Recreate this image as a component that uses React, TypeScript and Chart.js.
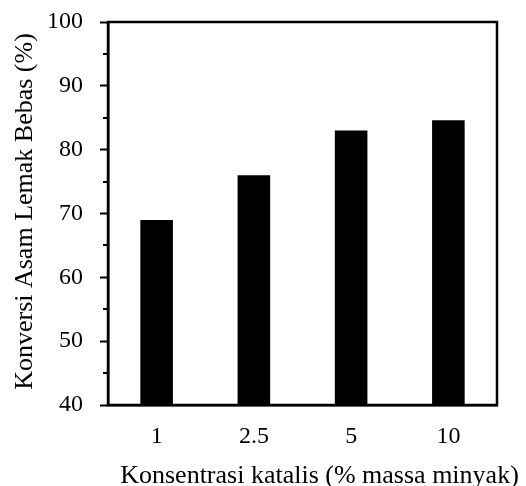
import React, { useEffect, useRef } from "react";
import { Chart, registerables } from "chart.js";

Chart.register(...registerables);

const categories: string[] = ["1", "2.5", "5", "10"];
const conversion: number[] = [69, 76, 83, 84.6];
const minorTickValues: number[] = [45, 55, 65, 75, 85, 95];
const xTitle = "Konsentrasi katalis (% massa minyak)";
const yTitle = "Konversi Asam Lemak Bebas (%)";

const FONT = "'Liberation Serif', 'Times New Roman', serif";

const framePlugin = {
  id: "frame",
  afterDraw(chart: any) {
    const { ctx, chartArea, scales } = chart;
    ctx.save();
    ctx.strokeStyle = "#000";
    ctx.lineWidth = 2.5;
    ctx.strokeRect(chartArea.left, chartArea.top, chartArea.right - chartArea.left, chartArea.bottom - chartArea.top);
    // minor ticks
    ctx.lineWidth = 2;
    const y = scales.y;
    minorTickValues.forEach((v) => {
      const py = Math.round(y.getPixelForValue(v));
      ctx.beginPath();
      ctx.moveTo(chartArea.left - 5, py);
      ctx.lineTo(chartArea.left, py);
      ctx.stroke();
    });
    // axis titles
    ctx.fillStyle = "#000";
    ctx.font = `26px ${FONT}`;
    ctx.textAlign = "center";
    ctx.textBaseline = "alphabetic";
    const cx = (chartArea.left + chartArea.right) / 2 + 17;
    ctx.fillText(xTitle, cx, chartArea.bottom + 78);
    const cy = (chartArea.top + chartArea.bottom) / 2 - 2;
    ctx.translate(32, cy);
    ctx.rotate(-Math.PI / 2);
    ctx.fillText(yTitle, 0, 0);
    ctx.restore();
  },
};

export default function App() {
  const ref = useRef<HTMLCanvasElement | null>(null);
  useEffect(() => {
    if (!ref.current) return;
    const chart = new Chart(ref.current, {
      type: "bar",
      data: {
        labels: categories,
        datasets: [
          {
            data: conversion,
            backgroundColor: "#000",
            borderWidth: 0,
            barPercentage: 0.335,
            categoryPercentage: 1,
          },
        ],
      },
      options: {
        animation: false,
        responsive: false,
        devicePixelRatio: 1,
        layout: { padding: { left: 0, top: 22, right: 29, bottom: 0 } },
        plugins: { legend: { display: false }, tooltip: { enabled: false } },
        scales: {
          x: {
            grid: { display: false, drawTicks: false },
            border: { display: true, color: "#000", width: 2.5 },
            ticks: { color: "#000", font: { family: FONT, size: 24 }, padding: 17 },
            afterFit(scale: any) {
              scale.height = 81;
              scale.paddingLeft = 0;
              scale.paddingRight = 0;
            },
          },
          y: {
            min: 40,
            max: 100,
            ticks: {
              stepSize: 10,
              color: "#000",
              font: { family: FONT, size: 24 },
              padding: 17,
            },
            grid: {
              drawOnChartArea: false,
              drawTicks: true,
              tickLength: 8,
              tickWidth: 2,
              tickColor: "#000",
            },
            border: { display: true, color: "#000", width: 2.5 },
            afterFit(scale: any) {
              scale.width = 108;
              scale.paddingTop = 0;
              scale.paddingBottom = 0;
            },
          },
        },
      },
      plugins: [framePlugin],
    });
    return () => chart.destroy();
  }, []);
  return (
    <div style={{ position: "fixed", left: 0, top: 0, width: 526, height: 486, background: "#fff" }}>
      <canvas ref={ref} width={526} height={486} style={{ width: 526, height: 486 }} />
    </div>
  );
}
